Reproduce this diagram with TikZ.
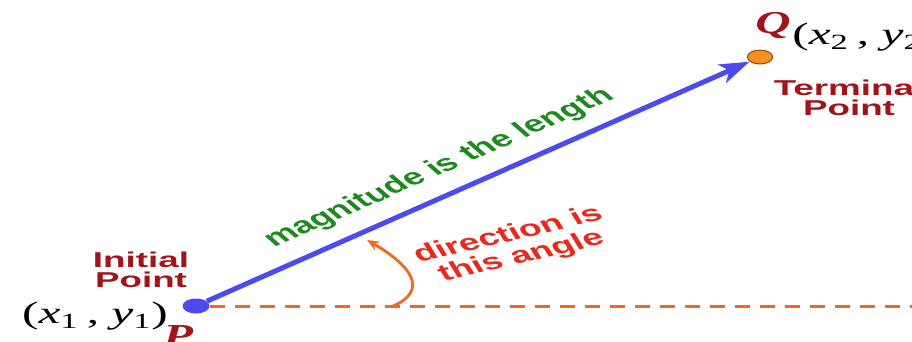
\documentclass[tikz,border=0pt]{standalone}
\usepackage{fontspec}
\setmainfont{Liberation Sans}
\newfontfamily\serfont{Liberation Serif}
\usetikzlibrary{arrows.meta}
\definecolor{vecblue}{HTML}{4B4BF0}
\definecolor{dotorange}{HTML}{F7901E}
\definecolor{dotedge}{HTML}{8A4A10}
\definecolor{dashorange}{HTML}{F06A1E}
\definecolor{textred}{HTML}{E82A1E}
\definecolor{darkred}{HTML}{A0141A}
\definecolor{maggreen}{HTML}{1E8A1E}
\tikzset{
  dotp/.style={circle, fill=vecblue, minimum size=15pt, inner sep=0pt},
  dotq/.style={circle, fill=dotorange, draw=dotedge, line width=1pt, minimum size=14pt, inner sep=0pt},
  vec/.style={draw=vecblue, line width=5pt, -{Stealth[length=30pt,width=20pt,inset=8pt]}},
  dashline/.style={draw=dashorange, line width=3pt, dash pattern=on 15pt off 10pt},
  anglearrow/.style={draw=dashorange, line width=2.8pt, -{Stealth[length=12pt,width=10pt]}},
  lab/.style={font=\fontsize{21.5}{20}\selectfont\bfseries, align=center, inner sep=0pt, xscale=0.95},
  redlab/.style={font=\fontsize{23}{23}\selectfont\bfseries, align=center, inner sep=0pt, text=textred, xscale=0.9},
  maglab/.style={font=\fontsize{23}{23}\selectfont\bfseries, inner sep=0pt, text=maggreen, xscale=0.9},
  mathl/.style={font=\serfont\fontsize{31}{31}\selectfont, inner sep=0pt, xscale=0.884},
  ptl/.style={font=\serfont\bfseries\itshape\fontsize{32}{32}\selectfont, inner sep=0pt, text=darkred, xscale=0.85}
}
\begin{document}
\begin{tikzpicture}[x=0.5555556pt, y=-1pt, xscale=1.8, transform shape]
\useasboundingbox (0,0) rectangle (912,341);
\clip (0,0) rectangle (912,341);
\node[dotp] (P) at (196,306) {};
\node[dotq] (Q) at (760,57) {};
\coordinate (E) at (912,306);
\draw[dashline] (P) -- (E);
\draw[vec] (P) -- (Q);
\coordinate (A1) at (393,306);
\coordinate (A2) at (367,240);
\draw[anglearrow] (A1) .. controls (430,290) and (410,265) .. (A2);
\node[lab, text=darkred] (IP) at (141,270) {Initial\\Point};
\node[lab, text=darkred] (TP) at (849,98) {Terminal\\Point};
\node[mathl, anchor=base] (C1) at (95,323) {(\textit{x}\textsubscript{1}\,, \textit{y}\textsubscript{1})};
\node[mathl, anchor=base west] (C2) at (792,44) {(\textit{x}\textsubscript{2}\,, \textit{y}\textsubscript{2})};
\node[ptl, anchor=base] (PL) at (178,346) {P};
\node[ptl, anchor=base] (QL) at (773,33) {Q};
\node[maglab, rotate=35.3, anchor=base] (M) at (445,173) {magnitude is the length};
\node[redlab, rotate=20.8] (D) at (515,246) {direction is\\this angle};
\end{tikzpicture}
\end{document}
